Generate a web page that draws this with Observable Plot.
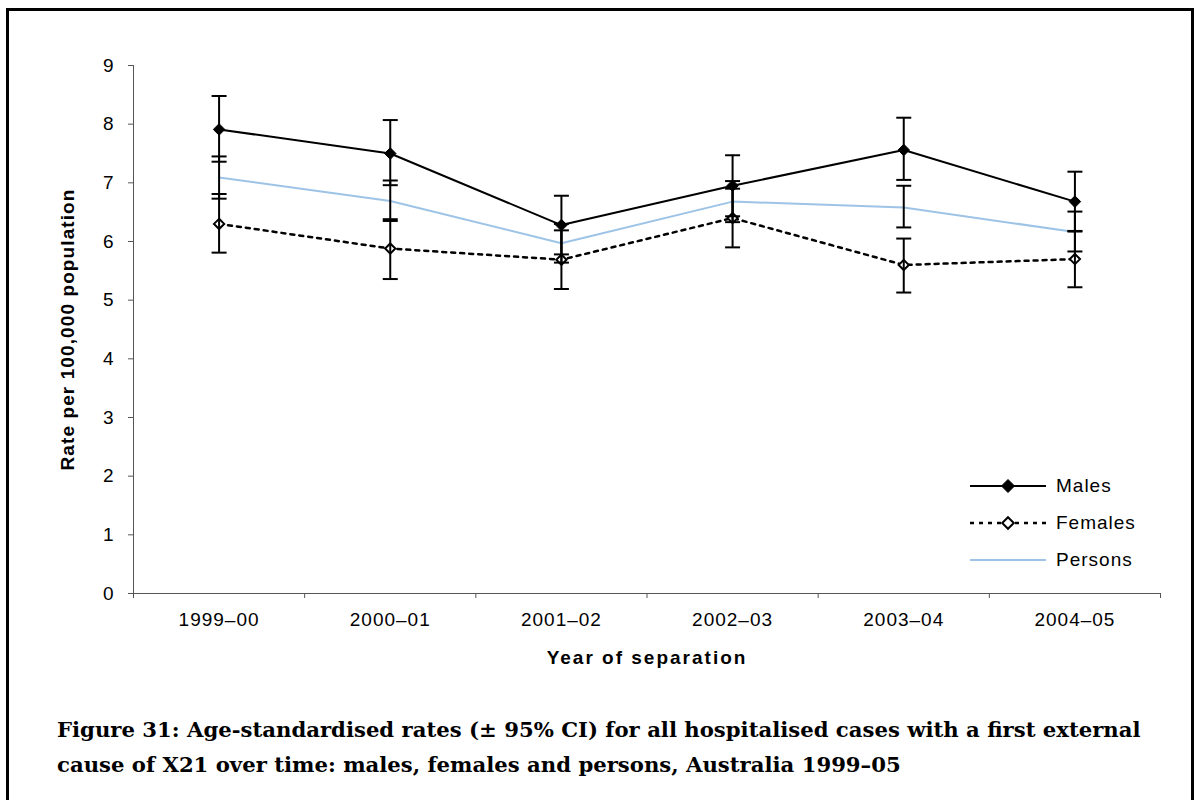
<!DOCTYPE html>
<html>
<head>
<meta charset="utf-8">
<script src="https://cdn.jsdelivr.net/npm/d3@7"></script>
<script src="https://cdn.jsdelivr.net/npm/@observablehq/plot@0.6"></script>
<style>
  html, body { margin: 0; padding: 0; background: #fff; }
  #wrap { position: relative; width: 1200px; height: 800px; overflow: hidden; background: #fff; }
  #border { position: absolute; left: 6px; top: 8px; width: 1188px; height: 820px; border: 3px solid #000; box-sizing: border-box; }
  #chart { position: absolute; left: 0; top: 0; }
  #legend { position: absolute; left: 968px; top: 467px; font-family: "Liberation Sans", Arial, sans-serif; font-size: 19px; letter-spacing: 1px; }
  #caption { position: absolute; left: 57px; top: 712px; font-family: "DejaVu Serif", "Liberation Serif", serif; font-weight: bold; font-size: 21.2px; line-height: 35px; color: #000; white-space: nowrap; }
</style>
</head>
<body>
<div id="wrap">
  <div id="border"></div>
  <div id="chart"></div>
  <div id="legend"></div>
  <div id="caption">Figure 31: Age-standardised rates (± 95% CI) for all hospitalised cases with a first external<br>cause of X21 over time: males, females and persons, Australia 1999–05</div>
</div>
<script>
const years = ["1999–00", "2000–01", "2001–02", "2002–03", "2003–04", "2004–05"];
const yTicks = [0, 1, 2, 3, 4, 5, 6, 7, 8, 9];
const seriesNames = ["Males", "Females", "Persons"];

const males     = [7.91, 7.50, 6.28, 6.95, 7.56, 6.68];
const malesLo   = [7.36, 6.96, 5.78, 6.43, 7.05, 6.17];
const malesHi   = [8.48, 8.07, 6.78, 7.47, 8.11, 7.19];

const females   = [6.30, 5.88, 5.69, 6.40, 5.60, 5.70];
const femalesLo = [5.81, 5.36, 5.19, 5.90, 5.13, 5.22];
const femalesHi = [6.81, 6.38, 6.19, 6.90, 6.05, 6.18];

const persons   = [7.09, 6.69, 5.97, 6.68, 6.58, 6.16];
const personsLo = [6.73, 6.35, 5.64, 6.33, 6.24, 5.83];
const personsHi = [7.45, 7.04, 6.30, 7.03, 6.95, 6.51];

const xTitle = "Year of separation";
const yTitle = "Rate per 100,000 population";

const PERSONS_BLUE = "#9dc3e6";

function rowsFor(name, vals, lo, hi) {
  return years.map((yr, i) => ({series: name, i, year: yr, value: vals[i], lo: lo[i], hi: hi[i]}));
}
const mRows = rowsFor("Males", males, malesLo, malesHi);
const fRows = rowsFor("Females", females, femalesLo, femalesHi);
const pRows = rowsFor("Persons", persons, personsLo, personsHi);
const allRows = [...pRows, ...fRows, ...mRows];

const idx = years.map((_, i) => i);
const boundaries = d3.range(-0.5, years.length, 1);

const capSymbol = {
  draw(context) {
    context.moveTo(-7.5, 0);
    context.lineTo(7.5, 0);
  }
};

const chart = Plot.plot({
  width: 1200,
  height: 690,
  marginTop: 65,
  marginLeft: 133,
  marginRight: 40,
  marginBottom: 97,
  style: {fontFamily: "'Liberation Sans', Arial, sans-serif", fontSize: "19px", color: "#000", background: "transparent", overflow: "visible"},
  x: {domain: [-0.5, years.length - 0.5]},
  y: {domain: [0, 9]},
  marks: [
    Plot.axisY({ticks: yTicks, tickSize: 5, tickPadding: 14, label: null, stroke: "#555", fontSize: 19}),
    Plot.axisX({ticks: boundaries, tickSize: 5, tickFormat: () => "", label: null, stroke: "#555"}),
    Plot.axisX({ticks: idx, tickSize: 0, tickPadding: 19, tickFormat: i => years[i], label: null, fontSize: 19}),
    Plot.frame({anchor: "left", stroke: "#555"}),
    Plot.frame({anchor: "bottom", stroke: "#555"}),
    Plot.line(pRows, {x: "i", y: "value", stroke: PERSONS_BLUE, strokeWidth: 2}),
    Plot.line(fRows, {x: "i", y: "value", stroke: "#000", strokeWidth: 2.5, strokeDasharray: "4,5"}),
    Plot.line(mRows, {x: "i", y: "value", stroke: "#000", strokeWidth: 2}),
    Plot.dot(fRows, {x: "i", y: "value", symbol: "diamond2", r: 4.6, fill: "#fff", stroke: "#000", strokeWidth: 2}),
    Plot.ruleX(allRows, {x: "i", y1: "lo", y2: "hi", stroke: "#000", strokeWidth: 2}),
    Plot.dot(allRows, {x: "i", y: "lo", symbol: capSymbol, fill: "none", stroke: "#000", strokeWidth: 2}),
    Plot.dot(allRows, {x: "i", y: "hi", symbol: capSymbol, fill: "none", stroke: "#000", strokeWidth: 2}),
    Plot.dot(mRows, {x: "i", y: "value", symbol: "diamond2", r: 5.2, fill: "#000", stroke: "#000", strokeWidth: 1}),
    Plot.text([xTitle], {frameAnchor: "bottom", dy: 70, text: d => d, fontWeight: "bold", fontSize: 19, className: "xtitle"}),
    Plot.text([yTitle], {frameAnchor: "left", dx: -66, rotate: -90, textAnchor: "middle", text: d => d, fontWeight: "bold", fontSize: 19, className: "ytitle"})
  ]
});
chart.querySelectorAll("[aria-label='x-axis tick label'] text, [aria-label='y-axis tick label'] text").forEach(t => t.setAttribute("letter-spacing", "1px"));
chart.querySelectorAll(".xtitle text").forEach(t => t.setAttribute("letter-spacing", "2px"));
chart.querySelectorAll(".ytitle text").forEach(t => t.setAttribute("letter-spacing", "1.1px"));
document.getElementById("chart").appendChild(chart);

// Legend
const legendStyles = {
  Males:   {stroke: "#000", dash: null, width: 2, marker: "filled"},
  Females: {stroke: "#000", dash: "4,5", width: 2.5, marker: "open"},
  Persons: {stroke: PERSONS_BLUE, dash: null, width: 2, marker: null}
};
const legend = d3.select("#legend");
seriesNames.forEach((name, k) => {
  const st = legendStyles[name];
  const row = legend.append("div").style("display", "flex").style("align-items", "center").style("height", "37px");
  const svg = row.append("svg").attr("width", 80).attr("height", 20).style("margin-right", "8px");
  const line = svg.append("line").attr("x1", 2).attr("x2", 78).attr("y1", 10).attr("y2", 10)
    .attr("stroke", st.stroke).attr("stroke-width", st.width);
  if (st.dash) line.attr("stroke-dasharray", st.dash);
  if (st.marker) {
    const s = st.marker === "filled" ? 6.5 : 5.8;
    svg.append("path").attr("d", `M40,${10 - s}L${40 + s},10L40,${10 + s}L${40 - s},10Z`)
      .attr("fill", st.marker === "filled" ? "#000" : "#fff").attr("stroke", "#000").attr("stroke-width", st.marker === "filled" ? 1 : 2);
  }
  row.append("span").text(name);
});
</script>
</body>
</html>
